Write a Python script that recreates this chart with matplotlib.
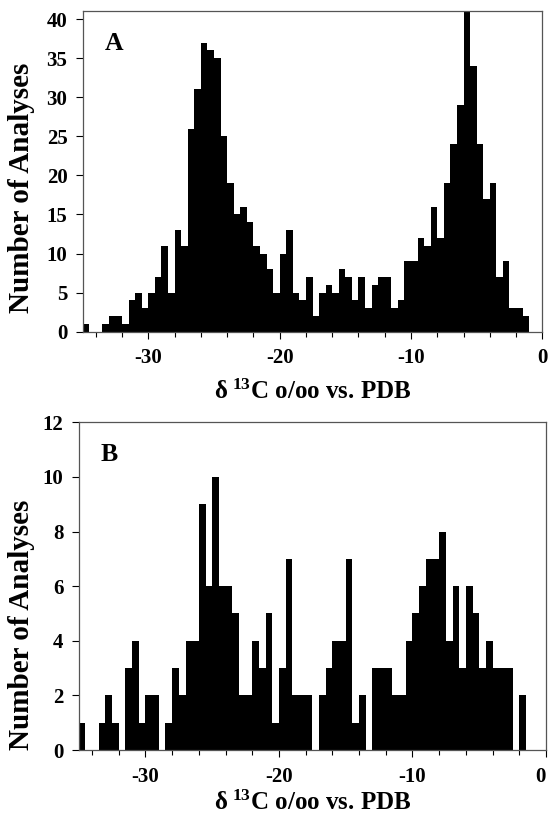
import numpy as np
import matplotlib
matplotlib.use("Agg")
import matplotlib.pyplot as plt
from matplotlib.ticker import MultipleLocator

plt.rcParams['font.family'] = ['Liberation Serif', 'DejaVu Serif']
plt.rcParams['font.weight'] = 'bold'
plt.rcParams['axes.labelweight'] = 'bold'
plt.rcParams['axes.unicode_minus'] = False
plt.rcParams['mathtext.fontset'] = 'custom'
plt.rcParams['mathtext.rm'] = 'Liberation Serif:bold'
plt.rcParams['mathtext.it'] = 'Liberation Serif:bold'
plt.rcParams['mathtext.bf'] = 'Liberation Serif:bold'

# histogram bins, -35 to 0 permil, 0.5 wide
bin_edges = np.arange(-35.0, 0.25, 0.5)

# panel A counts (one per bin, left to right)
counts_a = [1, 0, 0, 1, 2, 2, 1, 4, 5, 3,
            5, 7, 11, 5, 13, 11, 26, 31, 37, 36,
            35, 25, 19, 15, 16, 14, 11, 10, 8, 5,
            10, 13, 5, 4, 7, 2, 5, 6, 5, 8,
            7, 4, 7, 3, 6, 7, 7, 3, 4, 9,
            9, 12, 11, 16, 12, 19, 24, 29, 41, 34,
            24, 17, 19, 7, 9, 3, 3, 2, 0, 0]

# panel B counts
counts_b = [1, 0, 0, 1, 2, 1, 0, 3, 4, 1,
            2, 2, 0, 1, 3, 2, 4, 4, 9, 6,
            10, 6, 6, 5, 2, 2, 4, 3, 5, 1,
            3, 7, 2, 2, 2, 0, 2, 3, 4, 4,
            7, 1, 2, 0, 3, 3, 3, 2, 2, 4,
            5, 6, 7, 7, 8, 4, 6, 3, 6, 5,
            3, 4, 3, 3, 3, 0, 2, 0, 0, 0]

xticks = [-30, -20, -10, 0]

panels = [
    # label, counts, ylim top, ytick step, axes rect (px: left, top, right, bottom), xlabel pad
    ('A', counts_a, 41.1, 5, (82.7, 10.5, 542.3, 331.7), 8),
    ('B', counts_b, 12.0, 2, (78.7, 422.3, 546.0, 750.0), 3),
]

W, H = 548, 819
fig = plt.figure(figsize=(W / 100, H / 100), dpi=100)

ylab_y = [188, 625]
for i, (name, counts, ytop, ystep, (l, t, r, b), lpad) in enumerate(panels):
    ax = fig.add_axes([l / W, 1 - b / H, (r - l) / W, (b - t) / H])
    ax.stairs(counts, bin_edges, fill=True, color='black', linewidth=0)
    ax.set_xlim(-35, 0)
    ax.set_ylim(0, ytop)
    ax.set_xticks(xticks)
    ax.xaxis.set_minor_locator(MultipleLocator(2))
    ax.yaxis.set_major_locator(MultipleLocator(ystep))
    ax.tick_params(axis='both', which='major', direction='out', length=5,
                   width=0.8, labelsize=15)
    ax.tick_params(axis='x', which='major', pad=7)
    ax.tick_params(axis='x', which='minor', direction='out', length=3.5, width=0.8)
    ax.tick_params(axis='y', which='major', pad=6)
    for s in ax.spines.values():
        s.set_color('#555555')
        s.set_linewidth(0.9)
    ax.set_xlabel('δ\u2009$^{13}$C o/oo vs. PDB', fontsize=18, labelpad=lpad)
    ax.text(22 / (r - l), 1 - 21 / (b - t), name, transform=ax.transAxes,
            fontsize=18.5, ha='left', va='top')
    fig.text(22 / W, 1 - ylab_y[i] / H, 'Number of Analyses', rotation=90,
             fontsize=21, ha='center', va='center')
    if name == 'B':
        # keep the "0" label inside the figure edge
        ax.xaxis.get_major_ticks()[-1].label1.set_horizontalalignment('right')

fig.savefig('out.png', dpi=100)
